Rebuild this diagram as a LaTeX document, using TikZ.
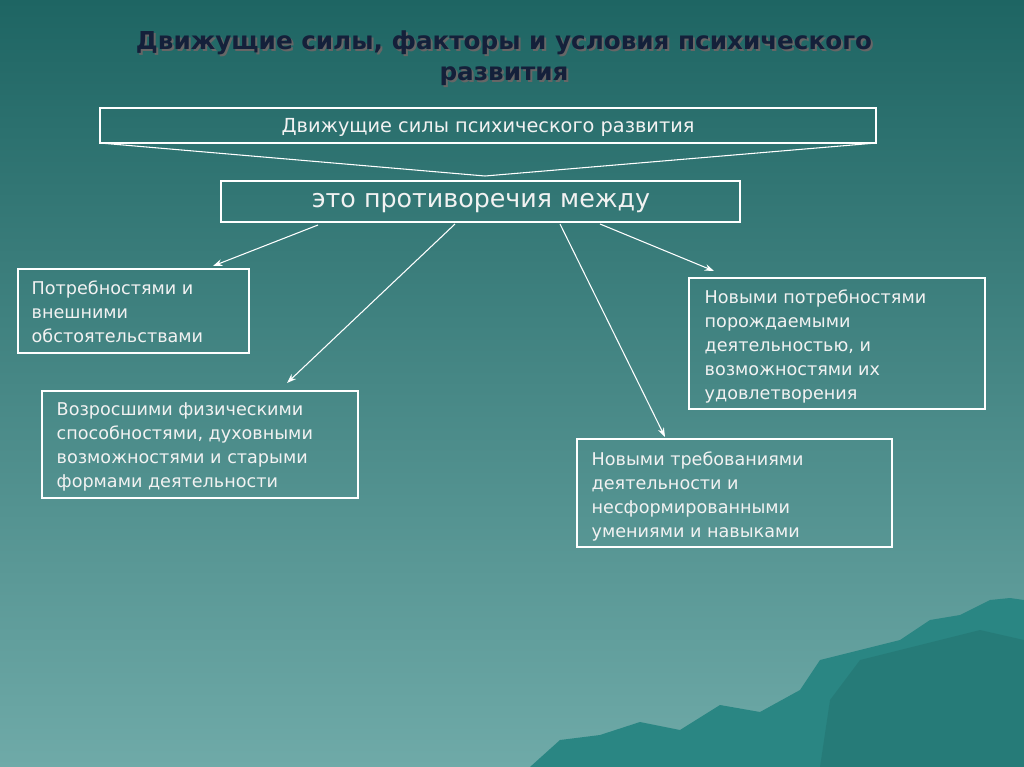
\documentclass[tikz,border=0pt]{standalone}
\usepackage{fontspec}
\setmainfont{DejaVu Sans}
\usetikzlibrary{arrows.meta}
\definecolor{bgtop}{HTML}{1E6563}
\definecolor{bgbot}{HTML}{6FAAA8}
\definecolor{mount}{HTML}{2A8683}
\definecolor{ttl}{HTML}{14203A}
\definecolor{txt}{HTML}{F2F2F2}
\tikzset{
 box/.style={draw=white, line width=0.8pt, inner sep=0pt},
 btxt/.style={text=txt, font=\fontsize{13.2}{18}\selectfont, align=left, anchor=north west},
 arr/.style={draw=white, line width=0.8pt, -{Stealth[length=7pt,width=5pt]}}
}
\begin{document}
\begin{tikzpicture}[x=0.75pt,y=-0.75pt]
\shade[top color=bgtop,bottom color=bgbot] (0,0) rectangle (1024,767);
\useasboundingbox (0,0) rectangle (1024,767);
% mountains
\fill[mount] (530,767) -- (560,740) -- (600,735) -- (640,722) -- (680,730) -- (720,705) -- (760,712) -- (800,690) -- (820,660) -- (860,650) -- (900,640) -- (930,620) -- (960,615) -- (990,600) -- (1010,598) -- (1024,600) -- (1024,767) -- cycle;
\fill[mount!80!black,opacity=0.4] (820,767) -- (830,700) -- (860,660) -- (900,650) -- (940,640) -- (980,630) -- (1024,640) -- (1024,767) -- cycle;
% title
\node[text=black!60,font=\bfseries\fontsize{18.5}{23}\selectfont,align=center] at (506,60) {Движущие силы, факторы и условия психического\\развития};
\node[text=ttl,font=\bfseries\fontsize{18.5}{23}\selectfont,align=center] (title) at (504,58) {Движущие силы, факторы и условия психического\\развития};
% top box
\draw[box] (100,108) rectangle (876,143);
\node[text=txt,font=\fontsize{14.5}{16}\selectfont] (top) at (488,127) {Движущие силы психического развития};
\coordinate (tl) at (100,143); \coordinate (tr) at (876,143); \coordinate (apex) at (485,176);
\draw[white,line width=0.8pt] (tl) -- (apex) -- (tr);
% second box
\draw[box] (221,181) rectangle (740,222);
\node[text=txt,font=\fontsize{19}{22}\selectfont] (mid) at (481,203) {это противоречия между};
% boxes
\draw[box] (18,269) rectangle (249,353);
\node[btxt] (a) at (27,276) {Потребностями и\\внешними\\обстоятельствами};
\draw[box] (42,391) rectangle (358,498);
\node[btxt] (b) at (52,398) {Возросшими физическими\\способностями, духовными\\возможностями и старыми\\формами деятельности};
\draw[box] (689,278) rectangle (985,409);
\node[btxt] (c) at (700,285) {Новыми потребностями\\порождаемыми\\деятельностью, и\\возможностями их\\удовлетворения};
\draw[box] (577,439) rectangle (892,547);
\node[btxt] (d) at (587,447) {Новыми требованиями\\деятельности и\\несформированными\\умениями и навыками};
% arrows
\coordinate (s1) at (318,225); \coordinate (e1) at (213,266);
\coordinate (s2) at (455,224); \coordinate (e2) at (287,383);
\coordinate (s3) at (560,224); \coordinate (e3) at (665,437);
\coordinate (s4) at (600,224); \coordinate (e4) at (714,271);
\draw[arr] (s1) -- (e1);
\draw[arr] (s2) -- (e2);
\draw[arr] (s3) -- (e3);
\draw[arr] (s4) -- (e4);
\end{tikzpicture}
\end{document}
